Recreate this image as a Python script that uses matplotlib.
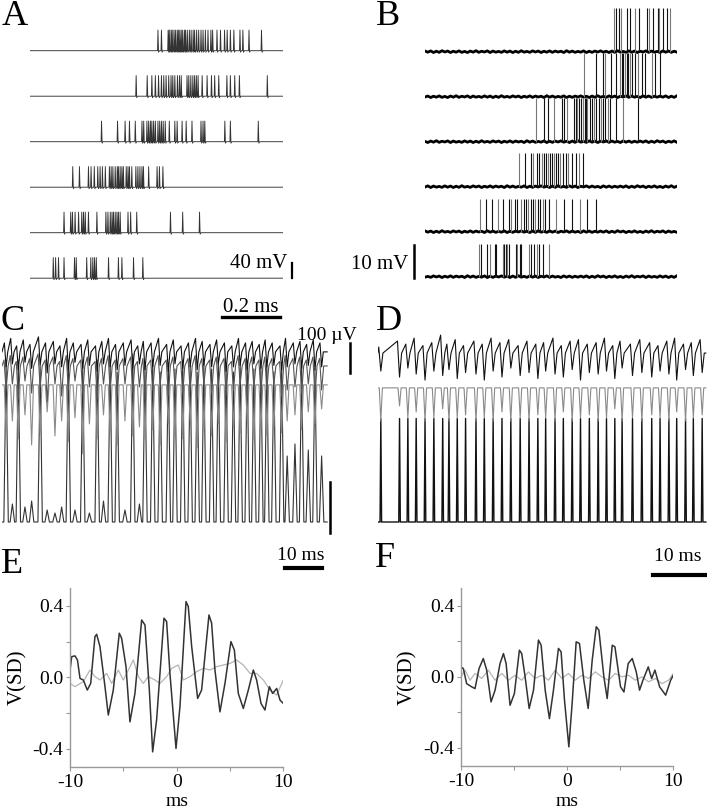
import matplotlib
matplotlib.use('Agg')
import matplotlib.pyplot as plt
import numpy as np

plt.rcParams['font.family'] = ['Liberation Serif', 'DejaVu Serif']

# ---------------- data ----------------
# A: spike times (ms) for six sweeps, sweep length 870 ms
a_spikes_ms = [
    [440, 452, 475, 479, 485, 489, 495, 500, 506, 510, 515, 520, 525, 531, 535, 541, 548, 554, 561,
     566, 573, 580, 588, 595, 603, 612, 622, 628, 643, 655, 669, 678, 689, 701, 722, 732, 753, 796],
    [365, 403, 419, 431, 442, 452, 460, 468, 477, 485, 491, 498, 507, 514, 520, 540, 546, 553, 560,
     566, 572, 578, 592, 609, 624, 635, 649, 677, 689, 704, 720, 816],
    [246, 301, 327, 342, 362, 385, 391, 402, 408, 414, 419, 425, 431, 440, 446, 452, 458, 465, 479,
     498, 506, 523, 537, 557, 588, 595, 601, 670, 689, 785],
    [147, 170, 201, 210, 221, 233, 241, 249, 259, 273, 279, 285, 293, 300, 304, 310, 316, 321, 331,
     337, 342, 350, 364, 371, 378, 385, 390, 408, 437, 445, 457],
    [117, 140, 146, 155, 167, 178, 184, 190, 201, 230, 261, 268, 276, 282, 287, 293, 299, 304, 310,
     337, 346, 367, 483, 525, 583],
    [80, 88, 98, 117, 153, 159, 195, 209, 216, 222, 228, 270, 304, 316, 356, 388],
]
a_spike_mv = 55

# B: spike times (ms) for six sweeps
b_spikes_ms = [
    [653, 661, 669, 677, 698, 707, 725, 738, 765, 774, 788, 803, 808, 820, 834, 845],
    [550, 589, 615, 621, 642, 661, 673, 679, 684, 690, 696, 702, 707, 715, 725, 736, 748, 759, 785,
     794, 811],
    [383, 411, 426, 445, 472, 480, 489, 514, 520, 526, 532, 538, 546, 551, 555, 561, 569, 575, 583,
     592, 600, 607, 615, 621, 633, 638, 658, 684, 736],
    [324, 345, 366, 374, 385, 394, 405, 411, 417, 424, 431, 438, 445, 452, 460, 466, 477, 486, 495,
     506, 521, 532, 546],
    [190, 209, 230, 251, 268, 291, 297, 311, 319, 331, 342, 348, 357, 366, 374, 380, 391, 397, 406,
     414, 428, 452, 480, 508, 535, 561, 589],
    [187, 193, 213, 224, 242, 245, 268, 273, 278, 284, 291, 314, 319, 328, 333, 360, 366, 376, 385,
     394, 408, 429],
]
b_spike_mv = [13.2, 13.2, 13.2, 10.2, 9.8, 10.0]
# small membrane ripple on the B baselines (mV), sampled evenly along the sweep
b_ripple_mv = [0.2, -0.15, 0.25, -0.25, 0.15, -0.2, 0.3, -0.1, 0.2, -0.25,
               0.15, -0.15, 0.25, -0.2, 0.1, -0.25, 0.2, -0.15, 0.3, -0.2,
               0.15, -0.1, 0.25, -0.25, 0.2, -0.15, 0.1, -0.2, 0.25, -0.15,
               0.2, -0.25, 0.15, -0.2, 0.3, -0.15, 0.1, -0.2, 0.25, -0.1,
               0.2, -0.25, 0.15, -0.15, 0.25, -0.2, 0.2, -0.1, 0.15, -0.25,
               0.3, -0.15, 0.2, -0.2, 0.1, -0.15, 0.25, -0.25, 0.15, -0.2,
               0.2, -0.1, 0.25, -0.15, 0.15, -0.25, 0.2, -0.2, 0.3, -0.15,
               0.1, -0.2, 0.25, -0.15, 0.2, -0.25, 0.15, -0.1, 0.25, -0.2,
               0.2, -0.15, 0.1, -0.25, 0.25, -0.15, 0.2, -0.2, 0.15, -0.15]

# C: oscillation cycles (ms) and amplitudes (uV)
c_cycle_ms = [1.1, 2.8, 4.4, 6.2, 8.0, 10.3, 12.2, 14.3, 16.1, 17.9, 19.7, 21.8, 23.6, 25.7, 27.4,
              29.2, 31.1, 33.2, 35.3, 37.1, 38.6, 40.7, 42.7, 44.9, 46.7, 48.8, 50.8, 52.7, 54.5,
              56.6, 58.4, 60.5, 62.5, 64.3, 66.2, 68.0, 69.9, 71.5, 73.4, 75.5, 77.0, 79.1, 80.9,
              82.7, 84.5, 86.3]
c_cell_peak_uv = [530, 60, 540, 50, 70, 520, 40, 30, 50, 540, 40, 520, 30, 540, 70, 530, 500, 40,
                  560, 60, 520, 540, 500, 530, 510, 540, 520, 500, 530, 510, 540, 520, 500, 530,
                  540, 510, 520, 540, 500, 530, 220, 260, 520, 240, 510, 220]
c_gray_dip_uv = [150, 120, 180, 100, 200, 160, 90, 170, 120, 190, 110, 230, 130, 180, 100, 160,
                 200, 120, 170, 140, 180, 150, 200, 130, 160, 180, 120, 210, 150, 170, 130, 190,
                 140, 160, 120, 180, 150, 170, 140, 160, 120, 100, 150, 90, 130, 80]
c_mid_dip_uv = [80, 60, 110, 50, 90, 70, 120, 60, 100, 80, 50, 90, 70, 110, 60, 80, 100, 60, 90,
                70, 110, 80, 60, 100, 70, 90, 80, 110, 60, 90, 70, 100, 80, 60, 110, 70, 90, 80,
                60, 100, 80, 70, 90, 60, 100, 80]
c_mid_up_uv = [20, 35, 15, 30, 25, 40, 20, 30, 15, 35, 25, 20, 30, 15, 25, 35, 20, 25, 30, 15, 25,
               20, 35, 20, 30, 15, 25, 35, 25, 20, 30, 25, 15, 35, 25, 30, 20, 30, 25, 15, 35, 25,
               30, 20, 30, 25]
c_top_dip_uv = [50, 40, 60, 35, 55, 45, 70, 40, 50, 60, 35, 55, 45, 65, 40, 50, 60, 45, 55, 40,
                60, 50, 45, 65, 40, 55, 50, 60, 45, 50, 40, 65, 50, 45, 60, 40, 55, 50, 45, 60,
                50, 40, 55, 45, 60, 50]
c_top_up_uv = [30, 45, 20, 40, 25, 50, 30, 35, 20, 45, 30, 25, 40, 20, 35, 45, 25, 30, 40, 20,
               35, 30, 45, 25, 40, 20, 30, 45, 35, 25, 40, 30, 20, 45, 30, 35, 25, 40, 30, 20,
               45, 30, 35, 25, 40, 30]

# D: spike times (ms) and field amplitudes (uV)
d_cycle_ms = [0.6, 4.2, 5.8, 7.4, 9.1, 10.8, 12.5, 13.7, 15.3, 16.9, 18.9, 20.5, 22.2, 23.9, 25.6,
              27.4, 29.1, 30.8, 32.3, 34.1, 35.7, 37.4, 39.0, 40.7, 42.4, 44.0, 45.6, 47.0, 49.0,
              50.8, 52.7, 54.3, 56.0, 57.5, 59.2, 60.7, 62.4]
d_cell_peak_uv = 345
d_gray_dip_uv = [110, 60, 100, 80, 110, 100, 70, 110, 100, 90, 110, 100, 110, 80, 110, 100, 110,
                 90, 100, 110, 80, 110, 100, 90, 110, 100, 70, 110, 100, 110, 90, 100, 110, 80,
                 110, 100, 90]
d_top_dip_uv = [60, 80, 50, 70, 90, 60, 75, 55, 85, 65, 70, 90, 60, 80, 50, 75, 65, 85, 60, 70,
                80, 55, 90, 65, 70, 60, 85, 50, 75, 65, 80, 60, 70, 90, 55, 75, 65]
d_top_up_uv = [20, 40, 30, 50, 25, 35, 60, 30, 45, 25, 40, 30, 50, 35, 45, 25, 40, 30, 35, 50, 25,
               40, 45, 30, 35, 50, 25, 40, 30, 45, 35, 25, 40, 50, 30, 35, 45]

# E: spike-triggered averages (ms, SD)
e_black_ms = [-10, -9.84, -9.53, -9.3, -9.06, -8.75, -8.38, -8.06, -7.66, -7.5, -7.19, -6.72, -6.41,
              -5.94, -5.38, -5.16, -4.75, -4.38, -3.91, -3.28, -2.97, -2.56, -2.25, -1.88, -1.19,
              -0.94, -0.63, -0.06, 0.31, 0.88, 1.09, 1.41, 1.97, 2.34, 3.03, 3.28, 3.59, 4.06, 4.53,
              5.09, 5.41, 5.78, 6.25, 6.72, 7.19, 7.5, 7.91, 8.28, 8.69, 9.0, 9.38, 9.69, 10.0]
e_black_sd = [0.04, 0.116, 0.12, 0.097, -0.006, -0.015, -0.071, -0.034, 0.228, 0.241, 0.172, -0.052,
              -0.211, -0.071, 0.247, 0.219, 0.06, -0.249, -0.09, 0.321, 0.293, -0.071, -0.417,
              -0.239, 0.331, 0.312, 0.022, -0.398, -0.164, 0.424, 0.396, 0.172, -0.118, -0.071,
              0.349, 0.303, 0.041, -0.193, -0.034, 0.2, 0.153, -0.09, -0.174, -0.071, 0.041,
              -0.015, -0.146, -0.183, -0.052, -0.09, -0.062, -0.127, -0.146]
e_gray_ms = [-10, -9.53, -8.75, -8.13, -7.66, -7.19, -6.56, -6.09, -5.47, -5.0, -4.53, -4.06, -3.59,
             -3.13, -2.66, -2.03, -1.56, -0.94, -0.47, 0.16, 0.63, 1.25, 1.88, 2.5, 3.13, 3.75,
             4.38, 5.0, 5.63, 6.25, 6.88, 7.5, 8.13, 8.75, 9.38, 10.0]
e_gray_sd = [-0.034, -0.052, -0.024, 0.041, 0.004, -0.015, 0.022, -0.034, 0.041, -0.015, 0.041,
             0.097, 0.004, -0.034, 0.004, -0.015, -0.034, 0.004, 0.05, 0.069, -0.015, 0.004, 0.032,
             0.05, 0.041, 0.06, 0.069, 0.078, 0.097, 0.069, 0.022, 0.022, -0.015, -0.071, -0.099,
             -0.015]

# F
f_black_ms = [-10, -9.78, -9.47, -9.0, -8.68, -8.3, -7.9, -7.58, -7.17, -6.79, -6.32, -6.0, -5.75,
              -5.38, -4.97, -4.5, -4.28, -3.96, -3.58, -3.17, -2.7, -2.45, -2.07, -1.67, -1.29,
              -0.82, -0.57, -0.25, 0.16, 0.47, 0.85, 1.16, 1.57, 1.98, 2.36, 2.74, 2.99, 3.46, 3.77,
              4.25, 4.5, 5.03, 5.35, 5.75, 6.13, 6.51, 6.82, 7.14, 7.64, 7.96, 8.27, 8.71, 9.28,
              9.75, 10.0]
f_black_sd = [0.056, 0.047, -0.038, -0.056, -0.066, 0.047, 0.103, 0.038, -0.141, -0.075, 0.075,
              0.131, 0.075, -0.16, -0.094, 0.15, 0.131, 0.0, -0.178, -0.075, 0.207, 0.178, -0.075,
              -0.235, -0.075, 0.16, 0.141, -0.131, -0.394, -0.15, 0.197, 0.188, -0.019, -0.178,
              0.094, 0.282, 0.263, 0.0, -0.122, 0.178, 0.169, -0.056, -0.085, 0.075, 0.103, 0.028,
              -0.075, -0.019, 0.056, -0.009, 0.038, -0.056, -0.103, -0.019, 0.009]
f_gray_ms = [-10, -9.62, -9.15, -8.68, -8.05, -7.42, -6.79, -6.16, -5.53, -4.91, -4.28, -3.65, -3.02,
             -2.39, -1.76, -1.13, -0.5, 0.13, 0.75, 1.38, 2.01, 2.64, 3.27, 3.9, 4.53, 5.16, 5.79,
             6.42, 7.04, 7.67, 8.3, 8.93, 9.56, 10.0]
f_gray_sd = [0.0, 0.038, -0.019, 0.019, -0.009, 0.038, -0.019, 0.019, -0.019, 0.009, -0.019, 0.028,
             -0.009, 0.009, -0.019, 0.038, -0.009, 0.019, -0.019, 0.009, -0.009, 0.028, 0.0,
             -0.019, 0.019, 0.0, 0.009, -0.019, 0.0, -0.028, -0.009, -0.038, -0.019, 0.019]

xticks_ms = [-10, -5, 0, 5, 10]
xtick_labels = ['-10', '', '0', '', '10']
yticks_sd = [-0.4, -0.2, 0.0, 0.2, 0.4]
ytick_labels = ['-0.4', '', '0.0', '', '0.4']

# ---------------- layout helpers ----------------
W, H = 707, 810
fig = plt.figure(figsize=(W / 100, H / 100), dpi=100)


def px_axes(left, top, right, bottom):
    # axes placed by pixel box of the 707x810 canvas
    ax = fig.add_axes([left / W, 1 - bottom / H, (right - left) / W, (bottom - top) / H])
    ax.set_axis_off()
    return ax


def spike_line(times, amp, base, t_end):
    xs, ys = [0.0], [base]
    for t in times:
        xs += [t - 1.5, t, t + 2.0, t + 5.0]
        ys += [base, base + amp, base - 4, base]
    xs.append(t_end)
    ys.append(base)
    return xs, ys


def event_line(times, amps, base, hw, t_end, pre=None):
    xs, ys = [0.0], [base]
    for i, t in enumerate(times):
        p = pre[i] if pre is not None else 0
        xs += [t - hw, t, t + hw]
        ys += [base + p, base + amps[i], base]
    xs.append(t_end)
    ys.append(base)
    return xs, ys


def letter(x, y, s):
    fig.text(x / W, 1 - y / H, s, fontsize=26, ha='left', va='baseline')


# ---------------- A ----------------
MV_PX_A = 2.667
axa = px_axes(30, 0, 283, 300)
axa.set_xlim(0, 870)
axa.set_ylim((50.7 - 300) * MV_PX_A, 50.7 * MV_PX_A)
for i, sp in enumerate(a_spikes_ms):
    base = -i * 45.5 * MV_PX_A
    xs, ys = spike_line(sp, a_spike_mv, base, 870)
    axa.plot(xs, ys, color='#333', lw=0.65)
axa.plot([901, 901], [-606, -566], color='k', lw=1.6, clip_on=False)
axa.text(884, -579, '40 mV', fontsize=15, ha='right', va='baseline')
axa.plot([660, 860], [-709, -709], color='k', lw=2.4, clip_on=False)
axa.text(760, -697, '0.2 ms', fontsize=15, ha='center', va='baseline')

# ---------------- B ----------------
MV_PX_B = 0.303
axb = px_axes(425, 0, 677, 300)
axb.set_xlim(0, 870)
axb.set_ylim((51.7 - 300) * MV_PX_B, 51.7 * MV_PX_B)
ripple_t = np.linspace(0, 870, len(b_ripple_mv))
for i, sp in enumerate(b_spikes_ms):
    base = -i * 45 * MV_PX_B
    shift = 7 * i
    ripple = b_ripple_mv[shift:] + b_ripple_mv[:shift]
    axb.plot(ripple_t, [base + r for r in ripple], color='k', lw=2.0)
    colors = ['#111' if k % 3 else '#777' for k in range(len(sp))]
    axb.vlines(sp, base, base + b_spike_mv[i], colors=colors, lw=0.8)
axb.plot([-38, -38], [-68.6, -58.6], color='k', lw=1.8, clip_on=False)
axb.text(-58.7, -64.5, '10 mV', fontsize=15, ha='right', va='center')

# ---------------- C ----------------
UV_PX = 3.333
C_MS_PX = 0.27
axc = px_axes(2, 330, 340, 545)
axc.set_xlim(0, (340 - 2) * C_MS_PX)
axc.set_ylim((522 - 545) * UV_PX, (522 - 330) * UV_PX)
c_end = 87.8
xs, ys = event_line(c_cycle_ms, c_cell_peak_uv, 0, 0.6, c_end)
axc.plot(xs, ys, color='#333', lw=0.8)
xs, ys = event_line(c_cycle_ms, [-d for d in c_gray_dip_uv], 457, 0.5, c_end)
axc.plot(xs, ys, color='#8a8a8a', lw=0.8)
xs, ys = event_line(c_cycle_ms, [-d for d in c_mid_dip_uv], 520, 0.55, c_end, pre=c_mid_up_uv)
axc.plot(xs, ys, color='#555', lw=0.8)
xs, ys = event_line(c_cycle_ms, [-d for d in c_top_dip_uv], 567, 0.45, c_end, pre=c_top_up_uv)
axc.plot(xs, ys, color='#111', lw=0.8)
# scale bars
axc.plot([94, 94], [497, 597], color='k', lw=1.8, clip_on=False)
axc.text(87.8, 607, '100 \u00b5V', fontsize=14, ha='center', va='baseline')
axc.plot([88.6, 88.6], [-37, 133], color='k', lw=1.8, clip_on=False)
axc.plot([76.4, 86.4], [-152, -152], color='k', lw=3, clip_on=False)
axc.text(80.6, -127, '10 ms', fontsize=14, ha='center', va='baseline')

# ---------------- D ----------------
D_MS_PX = 10 / 52
axd = px_axes(377.7, 330, 707, 545)
axd.set_xlim(0, (707 - 377.7) * D_MS_PX)
axd.set_ylim((522 - 545) * UV_PX, (522 - 330) * UV_PX)
d_end = 63.1
xs, ys = event_line(d_cycle_ms, [d_cell_peak_uv] * len(d_cycle_ms), 0, 0.15, d_end)
axd.plot(xs, ys, color='#111', lw=1.0)
xs, ys = event_line(d_cycle_ms, [-d for d in d_gray_dip_uv], 447, 0.3, d_end)
axd.plot(xs, ys, color='#8a8a8a', lw=0.8)
xs, ys = event_line(d_cycle_ms, [-d for d in d_top_dip_uv], 563, 0.4, d_end, pre=d_top_up_uv)
axd.plot(xs, ys, color='#111', lw=0.8)
axd.plot([52.9, 62.9], [-178, -178], color='k', lw=3, clip_on=False)
axd.text(57.7, -130, '10 ms', fontsize=14, ha='center', va='baseline')


# ---------------- E / F ----------------
def sta_axes(left, top, right, bottom, bx, bs, gx, gs, label_x):
    ax = fig.add_axes([left / W, 1 - bottom / H, (right - left) / W, (bottom - top) / H])
    ax.plot(gx, gs, color='#b5b5b5', lw=0.9)
    ax.plot(bx, bs, color='#333', lw=1.1)
    ax.set_xlim(-10, 10)
    ax.set_ylim(-0.5, 0.5)
    ax.set_xticks(xticks_ms, xtick_labels)
    ax.set_yticks(yticks_sd, ytick_labels)
    ax.tick_params(length=3, width=0.8, color='#999', labelsize=14, pad=2)
    for side in ['top', 'right']:
        ax.spines[side].set_visible(False)
    for side in ['left', 'bottom']:
        ax.spines[side].set_color('#999')
        ax.spines[side].set_linewidth(1)
    ax.text(label_x, 0.5, 'V(SD)', fontsize=15, rotation=90, ha='center', va='center',
            transform=ax.transAxes)
    ax.text(0.5, -(806 - bottom) / (bottom - top), 'ms', fontsize=14, ha='center',
            va='baseline', transform=ax.transAxes)
    return ax


sta_axes(70, 588, 283.3, 766.7, e_black_ms, e_black_sd, e_gray_ms, e_gray_sd, (18 - 70) / 213.3)
sta_axes(461, 588, 673.3, 765.7, f_black_ms, f_black_sd, f_gray_ms, f_gray_sd, (408 - 461) / 212.3)

# panel letters
letter(2, 25, 'A')
letter(376, 25, 'B')
letter(1, 330, 'C')
letter(376, 330, 'D')
letter(1, 573, 'E')
letter(375, 567, 'F')

fig.savefig('out.png', dpi=100)
